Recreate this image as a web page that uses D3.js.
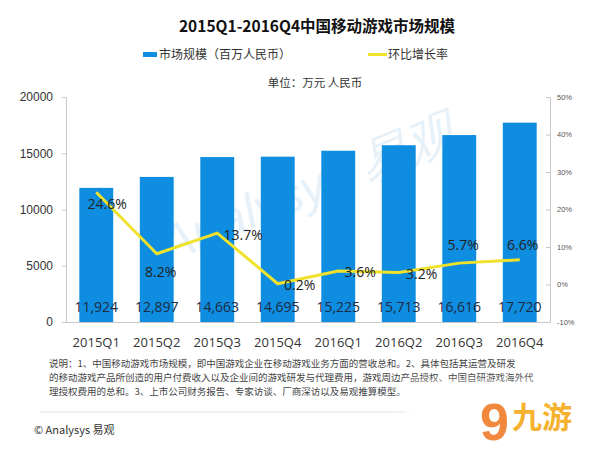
<!DOCTYPE html>
<html><head><meta charset="utf-8">
<script src="https://cdn.jsdelivr.net/npm/d3@7"></script>
<style>body{margin:0;background:#fff;}svg{display:block;font-family:"Noto Sans CJK SC","Microsoft YaHei",sans-serif;}</style>
</head><body>
<svg id="c" width="600" height="450"></svg>
<script>
const categories = ["2015Q1","2015Q2","2015Q3","2015Q4","2016Q1","2016Q2","2016Q3","2016Q4"];
const marketSize = [11924,12897,14663,14695,15225,15713,16616,17720];
const growthRate = [24.6,8.2,13.7,0.2,3.6,3.2,5.7,6.6];
const leftTicks = [0,5000,10000,15000,20000];
const rightTicks = [-10,0,10,20,30,40,50];
// label placement (style config): offset of each % label from its point
const rateLabelOffset = [[11,12],[4,18],[26,2],[22,1],[22,1],[23,1.5],[4,-18],[3,-15]];

const svg = d3.select("#c");
const L = 66, R = 550, T = 97, B = 322;
const x = d3.scaleBand().domain(categories).range([L,R]).paddingInner(0.44).paddingOuter(0.22);
const y = d3.scaleLinear().domain([0,20000]).range([B,T]);
const y2 = d3.scaleLinear().domain([-10,50]).range([B,T]);

// background watermark
svg.append("text").attr("x",310).attr("y",205).attr("text-anchor","middle")
  .attr("transform","rotate(-22,310,195)")
  .attr("font-family","Liberation Sans, Arial").attr("font-style","italic")
  .attr("font-size",50).attr("fill","#e6f1f9").text("Analysys 易观");

// title
svg.append("text").attr("x",317).attr("y",32).attr("text-anchor","middle")
  .attr("font-size",15.5).attr("font-weight","bold").attr("fill","#111").text("2015Q1-2016Q4中国移动游戏市场规模");

// legend
svg.append("rect").attr("x",143).attr("y",52).attr("width",14).attr("height",5).attr("fill","#0f8de0");
svg.append("text").attr("x",159).attr("y",58.5).attr("font-size",12).attr("fill","#333").text("市场规模（百万人民币）");
svg.append("rect").attr("x",368).attr("y",53).attr("width",19).attr("height",3).attr("fill","#f0e12b");
svg.append("text").attr("x",388).attr("y",58.5).attr("font-size",12).attr("fill","#333").text("环比增长率");
svg.append("text").attr("x",315).attr("y",87).attr("text-anchor","middle").attr("font-size",11.5).attr("fill","#333").text("单位：万元 人民币");

// axes
const gl = svg.append("g").attr("transform",`translate(${L},0)`)
  .call(d3.axisLeft(y).tickValues(leftTicks).tickSize(4).tickPadding(9).tickFormat(d3.format("d")));
gl.selectAll("path,line").attr("stroke","#c8c8c8");
gl.selectAll("text").attr("font-family","Liberation Sans, Arial").attr("font-size",12).attr("fill","#333");

const gr = svg.append("g").attr("transform",`translate(${R},0)`)
  .call(d3.axisRight(y2).tickValues(rightTicks).tickSize(-4).tickPadding(7).tickFormat(d=>d+"%"));
gr.selectAll("path,line").attr("stroke","#c8c8c8");
gr.selectAll("text").attr("font-family","Liberation Sans, Arial").attr("font-size",7.5).attr("fill","#555");

svg.append("line").attr("x1",L).attr("x2",R).attr("y1",B+0.5).attr("y2",B+0.5).attr("stroke","#c8c8c8");

// x labels
svg.append("g").selectAll("text").data(categories).join("text")
  .attr("x",d=>x(d)+x.bandwidth()/2).attr("y",347).attr("text-anchor","middle")
  .attr("font-family","Open Sans, sans-serif").attr("font-size",13).attr("fill","#333").text(d=>d);

// bars
svg.append("g").selectAll("rect").data(marketSize).join("rect")
  .attr("x",(d,i)=>x(categories[i])).attr("width",x.bandwidth())
  .attr("y",d=>y(d)).attr("height",d=>B-y(d)).attr("fill","#0f8de0");

// bar value labels
svg.append("g").selectAll("text").data(marketSize).join("text")
  .attr("x",(d,i)=>x(categories[i])+x.bandwidth()/2).attr("y",312).attr("text-anchor","middle")
  .attr("font-family","Open Sans, sans-serif").attr("font-size",14).attr("fill","#1c2b3f")
  .text(d=>d3.format(",")(d));

// line
const cx = i=>x(categories[i])+x.bandwidth()/2;
svg.append("path").datum(growthRate)
  .attr("d",d3.line().x((d,i)=>cx(i)).y(d=>y2(d)))
  .attr("fill","none").attr("stroke","#f0e12b").attr("stroke-width",3).attr("stroke-linejoin","round");

svg.append("g").selectAll("text").data(growthRate).join("text")
  .attr("x",(d,i)=>cx(i)+rateLabelOffset[i][0]).attr("y",(d,i)=>y2(d)+rateLabelOffset[i][1]+5)
  .attr("text-anchor","middle").attr("font-family","Open Sans, sans-serif").attr("font-size",14).attr("fill","#222")
  .text(d=>d.toFixed(1)+"%");

// footnote
const notes = ["说明：1、中国移动游戏市场规模，即中国游戏企业在移动游戏业务方面的营收总和。2、具体包括其运营及研发",
 "的移动游戏产品所创造的用户付费收入以及企业间的游戏研发与代理费用，游戏周边产品授权、中国自研游戏海外代",
 "理授权费用的总和。3、上市公司财务报告、专家访谈、厂商深访以及易观推算模型。"];
svg.append("g").selectAll("text").data(notes).join("text")
  .attr("x",49).attr("y",(d,i)=>367+i*14).attr("font-size",9.5).attr("fill","#444").text(d=>d);
svg.append("line").attr("x1",40).attr("x2",420).attr("y1",412).attr("y2",412).attr("stroke","#e0e0e0");
svg.append("text").attr("x",34).attr("y",434).attr("font-size",11).attr("fill","#333").text("© Analysys 易观");

// overlay logo watermark
const defs = svg.append("defs");
defs.append("filter").attr("id","bl").append("feGaussianBlur").attr("stdDeviation",6);
svg.append("rect").attr("x",405).attr("y",384).attr("width",210).attr("height",80).attr("fill","#fff").attr("filter","url(#bl)");
svg.append("rect").attr("x",415).attr("y",390).attr("width",190).attr("height",70).attr("fill","#fff");
svg.append("text").attr("x",480).attr("y",440).attr("font-size",52).attr("font-weight","bold")
  .attr("font-family","Liberation Sans, Arial").attr("fill","#f0883e").text("9");
svg.append("text").attr("x",512).attr("y",428).attr("font-size",30).attr("font-weight","bold").attr("fill","#f5b22e").text("九游");
</script>
</body></html>
